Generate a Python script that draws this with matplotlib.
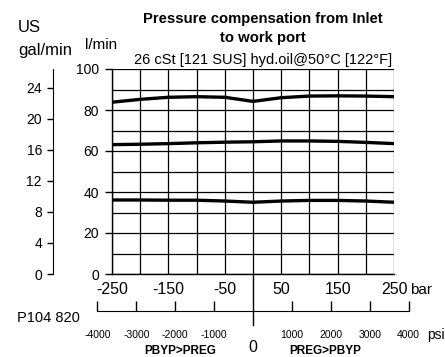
import matplotlib
matplotlib.use("Agg")
from matplotlib import pyplot as plt
import numpy as np

plt.rcParams['font.family'] = ['Liberation Sans', 'DejaVu Sans']
plt.rcParams['axes.unicode_minus'] = False

# pressure difference (bar) and flow at the work port (l/min)
pressure_bar = [-250, -200, -150, -100, -50, 0, 50, 100, 150, 200, 250]
flow_high = [83.8, 85.2, 86.2, 86.5, 86.2, 84.2, 86.0, 86.8, 86.9, 86.8, 86.5]
flow_mid = [63.1, 63.3, 63.6, 64.0, 64.3, 64.5, 64.9, 64.9, 64.7, 64.2, 63.6]
flow_low = [36.1, 36.1, 36.0, 36.0, 35.6, 35.0, 35.6, 35.9, 35.9, 35.6, 35.0]

bar_labels = [-250, -150, -50, 50, 150, 250]
lmin_labels = [0, 20, 40, 60, 80, 100]
gal_labels = [0, 4, 8, 12, 16, 20, 24]
psi_labels = [-4000, -3000, -2000, -1000, 1000, 2000, 3000, 4000]

L_PER_GAL = 3.785
PSI_PER_BAR = 14.5038

W, H = 445, 357
fig = plt.figure(figsize=(W / 100, H / 100), dpi=100)

# main plot, pixel box x 112..394, y 69..274
ax = fig.add_axes([112 / W, (H - 274) / H, 282 / W, 205 / H])
ax.set_xlim(-250, 250)
ax.set_ylim(0, 100)
for flow in [flow_high, flow_mid, flow_low]:
    ax.plot(pressure_bar, flow, color='black', lw=2.4, solid_capstyle='butt', zorder=3)

ax.set_xticks(bar_labels)
ax.set_xticks(np.arange(-250, 251, 50), minor=True)
ax.set_yticks(lmin_labels)
ax.set_yticks(np.arange(0, 101, 10), minor=True)
ax.grid(True, which='both', color='black', lw=0.9)
ax.tick_params(axis='x', which='both', length=0, labelsize=11.5, pad=6)
ax.tick_params(axis='y', which='major', length=5, width=1, labelsize=10, pad=4.5)
ax.tick_params(axis='y', which='minor', length=0)
for s in ax.spines.values():
    s.set_linewidth(1)
ax.spines['top'].set_visible(False)
ax.spines['right'].set_visible(False)
fig.text(410 / W, 1 - 290 / H, 'bar', fontsize=11, va='center', ha='left')

# centre line running down to the psi scale
ax.plot([0, 0], [0, -(325 - 274) / 205], transform=ax.get_xaxis_transform(),
        color='black', lw=1, clip_on=False)

# US gal/min scale on the far left
ax2 = fig.add_axes([53 / W, (H - 274) / H, 0.001, 205 / H])
ax2.set_ylim(0, 100 / L_PER_GAL)
ax2.set_yticks(gal_labels)
ax2.tick_params(axis='y', length=4, width=1, labelsize=10, pad=4)
ax2.set_xticks([])
for side in ['top', 'right', 'bottom']:
    ax2.spines[side].set_visible(False)
ax2.patch.set_alpha(0)

# psi scale underneath
psi_left = 253 - 4000 / PSI_PER_BAR * 282 / 500
psi_w = 2 * 4000 / PSI_PER_BAR * 282 / 500
ax3 = fig.add_axes([psi_left / W, (H - 311) / H, psi_w / W, 0.001])
ax3.set_xlim(-4000, 4000)
ax3.set_xticks(psi_labels)
ax3.set_xticklabels([str(v) for v in psi_labels])
ax3.tick_params(axis='x', direction='in', length=7, width=1, labelsize=7.5, pad=14)
ax3.set_yticks([])
for side in ['top', 'right', 'left']:
    ax3.spines[side].set_visible(False)
ax3.patch.set_alpha(0)

fig.text(427 / W, 1 - 335 / H, 'psi', fontsize=10, va='center', ha='left')
fig.text(253 / W, 1 - 348 / H, '0', fontsize=11.5, va='center', ha='center')
fig.text(180 / W, 1 - 351 / H, 'PBYP>PREG', fontsize=8.5, weight='bold',
         va='center', ha='center')
fig.text(325 / W, 1 - 351 / H, 'PREG>PBYP', fontsize=8.5, weight='bold',
         va='center', ha='center')
fig.text(48 / W, 1 - 318 / H, 'P104 820', fontsize=10.5, va='center', ha='center')

# titles and unit labels
fig.text(263 / W, 1 - 19 / H, 'Pressure compensation from Inlet', fontsize=10.7,
         weight='bold', va='center', ha='center')
fig.text(263 / W, 1 - 38 / H, 'to work port', fontsize=10.7, weight='bold',
         va='center', ha='center')
fig.text(263 / W, 1 - 60 / H, '26 cSt [121 SUS] hyd.oil@50°C [122°F]', fontsize=10.5,
         va='center', ha='center')
fig.text(18 / W, 1 - 27 / H, 'US', fontsize=12, va='center', ha='left')
fig.text(18 / W, 1 - 50 / H, 'gal/min', fontsize=12, va='center', ha='left')
fig.text(85 / W, 1 - 45 / H, 'l/min', fontsize=11, va='center', ha='left')

fig.savefig('out.png', dpi=100)
